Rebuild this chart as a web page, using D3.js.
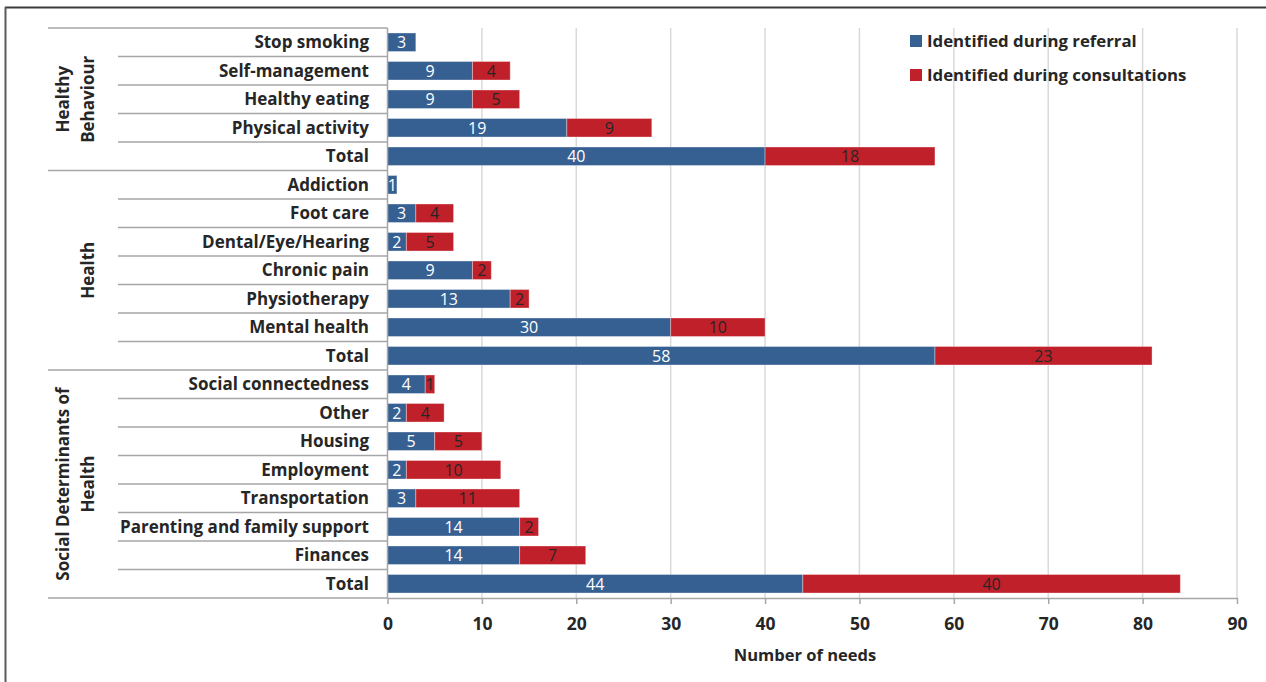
<!DOCTYPE html>
<html>
<head>
<meta charset="utf-8">
<script src="https://cdn.jsdelivr.net/npm/d3@7"></script>
<style>
  html, body { margin: 0; padding: 0; background: #fff; }
  svg { display: block; }
  text { font-family: "Open Sans", sans-serif; }
</style>
</head>
<body>
<svg id="chart" width="1266" height="682"></svg>
<script>
// ---- Data ----
const groups = ["Healthy Behaviour", "Health", "Social Determinants of Health"];
const groupLabelLines = [["Healthy", "Behaviour"], ["Health"], ["Social Determinants of", "Health"]];
const categories = [
  "Stop smoking", "Self-management", "Healthy eating", "Physical activity", "Total",
  "Addiction", "Foot care", "Dental/Eye/Hearing", "Chronic pain", "Physiotherapy", "Mental health", "Total",
  "Social connectedness", "Other", "Housing", "Employment", "Transportation", "Parenting and family support", "Finances", "Total"
];
const categoryGroup = [0,0,0,0,0, 1,1,1,1,1,1,1, 2,2,2,2,2,2,2,2];
const referral =      [3, 9, 9, 19, 40,  1, 3, 2, 9, 13, 30, 58,  4, 2, 5, 2, 3, 14, 14, 44];
const consultations = [0, 4, 5, 9, 18,   0, 4, 5, 2, 2, 10, 23,   1, 4, 5, 10, 11, 2, 7, 40];
const seriesNames = ["Identified during referral", "Identified during consultations"];
const seriesColors = ["#376092", "#C0202A"];
const xTicks = [0, 10, 20, 30, 40, 50, 60, 70, 80, 90];
const xTitle = "Number of needs";

// ---- Layout ----
const FONT = "'Open Sans', sans-serif";
const svg = d3.select("#chart");
const plotLeft = 387.5, plotRight = 1237, plotTop = 28, plotBottom = 598;
const x = d3.scaleLinear().domain([0, 90]).range([plotLeft, plotRight]);
const y = d3.scaleBand().domain(d3.range(categories.length)).range([plotTop, plotBottom])
  .paddingInner(0.35).paddingOuter(0.175);
const step = y.step();

// outer frame (top + left)
svg.append("line").attr("x1", 5).attr("x2", 1266).attr("y1", 7.5).attr("y2", 7.5)
  .attr("stroke", "#3a3a3a").attr("stroke-width", 2);
svg.append("line").attr("x1", 5.5).attr("x2", 5.5).attr("y1", 7).attr("y2", 682)
  .attr("stroke", "#5a5a5a").attr("stroke-width", 2);

// gridlines
svg.append("g").selectAll("line").data(xTicks.slice(1)).join("line")
  .attr("x1", d => x(d)).attr("x2", d => x(d))
  .attr("y1", plotTop).attr("y2", plotBottom)
  .attr("stroke", "#d9d9d9").attr("stroke-width", 1.5);

// stacked bars
const stackData = categories.map((c, i) => ({i, a: referral[i], b: consultations[i]}));
const stack = d3.stack().keys(["a", "b"])(stackData);
const layers = svg.append("g").selectAll("g").data(stack).join("g")
  .attr("fill", (d, k) => seriesColors[k]);
layers.selectAll("rect").data(d => d.filter(s => s[1] - s[0] > 0)).join("rect")
  .attr("x", s => x(s[0]))
  .attr("y", s => y(s.data.i))
  .attr("width", s => x(s[1]) - x(s[0]))
  .attr("height", y.bandwidth())
  .attr("stroke", "rgba(255,255,255,0.35)")
  .attr("stroke-width", 1);

// value labels
stack.forEach((layer, k) => {
  svg.append("g").selectAll("text").data(layer.filter(s => s[1] - s[0] > 0)).join("text")
    .attr("x", s => (x(s[0]) + x(s[1])) / 2)
    .attr("y", s => y(s.data.i) + y.bandwidth() / 2)
    .attr("dy", "0.36em")
    .attr("text-anchor", "middle")
    .attr("font-size", 16)
    .attr("fill", k === 0 ? "#ffffff" : "#262626")
    .text(s => s[1] - s[0]);
});

// y-axis line
svg.append("line").attr("x1", plotLeft).attr("x2", plotLeft).attr("y1", plotTop).attr("y2", plotBottom)
  .attr("stroke", "#a6a6a6").attr("stroke-width", 1.5);

// row separators
const boundaries = d3.range(categories.length + 1);
svg.append("g").selectAll("line").data(boundaries).join("line")
  .attr("x1", b => (b === 0 || b === categories.length || categoryGroup[b] !== categoryGroup[b - 1]) ? 48 : 118)
  .attr("x2", plotLeft)
  .attr("y1", b => plotTop + b * step).attr("y2", b => plotTop + b * step)
  .attr("stroke", "#a6a6a6").attr("stroke-width", 1.5);

// category labels
svg.append("g").selectAll("text").data(categories).join("text")
  .attr("x", 369)
  .attr("y", (d, i) => y(i) + y.bandwidth() / 2)
  .attr("dy", "0.36em")
  .attr("text-anchor", "end")
  .attr("font-size", 17)
  .attr("font-weight", "bold")
  .attr("fill", "#262626")
  .text(d => d);

// group labels
groups.forEach((g, gi) => {
  const idx = categoryGroup.map((v, i) => v === gi ? i : -1).filter(i => i >= 0);
  const cy = plotTop + (idx[0] + (idx[idx.length - 1] + 1)) / 2 * step;
  const lines = groupLabelLines[gi];
  const xs = lines.length === 2 ? [63, 88] : [88];
  lines.forEach((ln, li) => {
    svg.append("text")
      .attr("transform", `translate(${xs[li]},${cy}) rotate(-90)`)
      .attr("text-anchor", "middle")
      .attr("dy", "0.36em")
      .attr("font-size", 17)
      .attr("font-weight", "bold")
      .attr("fill", "#262626")
      .text(ln);
  });
});

// x axis
const xAxis = svg.append("g").attr("transform", `translate(0,${plotBottom})`)
  .call(d3.axisBottom(x).tickValues(xTicks).tickSize(6).tickSizeOuter(0).tickPadding(14));
xAxis.select(".domain").attr("stroke", "#a6a6a6").attr("stroke-width", 1.5);
xAxis.selectAll(".tick line").attr("stroke", "#a6a6a6").attr("stroke-width", 1.5);
xAxis.selectAll(".tick text").attr("font-size", 17.5).attr("font-weight", "bold")
  .attr("fill", "#262626").attr("font-family", FONT);

svg.append("text").attr("x", 805).attr("y", 655).attr("dy", "0.36em")
  .attr("text-anchor", "middle").attr("font-size", 16.5).attr("font-weight", "bold")
  .attr("fill", "#262626").text(xTitle);

// legend
const legend = svg.append("g");
seriesNames.forEach((n, k) => {
  const ly = 41 + k * 34;
  legend.append("rect").attr("x", 910).attr("y", ly - 6).attr("width", 12).attr("height", 12)
    .attr("fill", seriesColors[k]);
  legend.append("text").attr("x", 927).attr("y", ly).attr("dy", "0.36em")
    .attr("font-size", 16.8).attr("font-weight", "bold").attr("fill", "#262626").text(n);
});
</script>
</body>
</html>
